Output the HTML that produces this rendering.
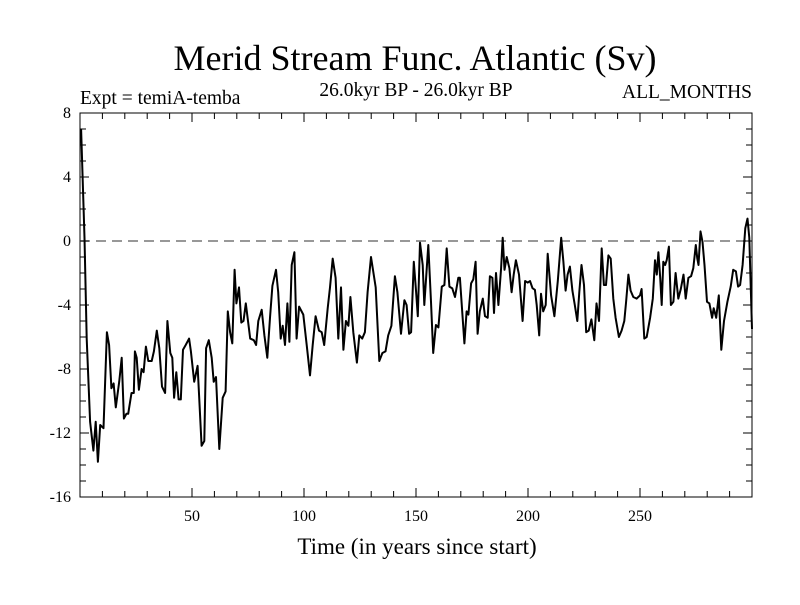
<!DOCTYPE html>
<html><head><meta charset="utf-8"><style>
body{margin:0;background:#fff;}
svg text{font-family:"Liberation Serif",serif;fill:#000;}
</style></head><body>
<svg id="chart" width="800" height="600" xmlns="http://www.w3.org/2000/svg">
<rect width="800" height="600" fill="#fff"/>
<text x="415" y="70" font-size="36" text-anchor="middle">Merid Stream Func. Atlantic (Sv)</text>
<text x="80" y="104" font-size="19.5">Expt = temiA-temba</text>
<text x="416" y="96" font-size="19.5" text-anchor="middle">26.0kyr BP - 26.0kyr BP</text>
<text x="752" y="98" font-size="19.5" text-anchor="end">ALL_MONTHS</text>
<text x="417" y="554" font-size="23" text-anchor="middle">Time (in years since start)</text>
<g id="axes"></g>
<g id="series"></g>
</svg>
<script>
const xTicks=[50,100,150,200,250];
const yTicks=[8,4,0,-4,-8,-12,-16];
const years=[0.5,1,2,3,4.5,6,7,8,9,10.5,12,13,14,15,16,17.5,18.6,19.6,20.7,21.5,23,24,24.5,25.3,26.3,27.5,28.4,29.4,30.5,32,33,34.3,35.4,36.6,38,39,40.3,41.2,42,43,44,45,46,47.2,48.7,49.5,51,52.5,54.3,55.5,56.3,57.5,58.8,59.7,60.7,62.2,63.7,65,66,67,68,69,69.8,71,72,73,74,76,77.6,78.6,79.6,81.1,82.3,83.6,84.8,85.9,87.5,88.5,89.6,90.5,91.5,92.6,93.5,94.5,95.7,96.7,97.8,99.7,101.2,102.7,103.9,105.2,106.7,107.9,109,110.6,111.6,112.8,114.1,115.3,116.5,117.6,118.7,119.8,120.7,122,123.6,124.7,126,127.2,128.4,129.9,132,133.6,135,136.4,137.6,139,140.6,141.7,143.3,144.8,145.8,146.9,147.8,149,150,150.8,151.8,153,153.7,155.5,156.7,157.7,158.9,160,161.5,162.7,163.7,164.9,166.2,167.4,168.9,169.6,171.6,172.6,173.4,174.6,175.6,176.6,177.5,178.5,179.8,180.8,182,183,184.1,184.8,185.7,186.8,188,188.7,189.5,190.5,191.7,192.7,193.6,194.6,196,197.6,198.7,199.9,200.9,202,203.1,203.9,205,205.8,206.8,207.9,208.8,210.3,211.8,213.3,214.8,215.8,216.8,217.7,218.7,219.8,220.9,222,222.9,223.9,225,226,227.1,228.3,229.6,230.6,231.7,232.9,233.9,234.8,235.9,236.9,238.1,239.1,240.6,241.8,243,243.8,244.8,245.8,247,248.5,250,250.7,251.9,253,254.5,255.7,256.7,257.5,258.2,259,259.7,260.4,261.2,261.9,262.9,263.8,264.9,265.9,267.1,268.2,269.4,270.4,271.6,272.8,273.8,274.9,275.6,276.1,277,277.9,278.8,279.9,281,282.2,282.9,284,285.2,286.3,287.5,289,290.5,291.6,292.8,293.8,294.7,295.8,297,298,298.8,299.5,300];
const values=[7.0,4.8,0.2,-6.1,-11.3,-13.1,-11.3,-13.8,-11.5,-11.7,-5.7,-6.5,-9.2,-8.9,-10.4,-8.8,-7.3,-11.1,-10.8,-10.8,-9.5,-9.5,-6.9,-7.3,-9.3,-8.0,-8.2,-6.6,-7.5,-7.5,-6.9,-5.6,-6.7,-9.1,-9.5,-5.0,-7.0,-7.3,-9.8,-8.2,-9.9,-9.9,-6.8,-6.5,-6.1,-6.9,-8.8,-7.8,-12.8,-12.5,-6.7,-6.2,-7.3,-8.8,-8.5,-13.0,-9.8,-9.4,-4.4,-5.7,-6.4,-1.8,-3.9,-2.9,-5.1,-5.0,-3.9,-6.1,-6.2,-6.5,-5.0,-4.3,-5.9,-7.3,-4.8,-2.8,-1.8,-3.2,-6.1,-5.3,-6.5,-3.9,-6.3,-1.5,-0.7,-6.1,-4.1,-4.6,-6.5,-8.4,-6.5,-4.7,-5.6,-5.7,-6.5,-4.2,-2.9,-1.1,-2.3,-6.1,-2.9,-6.8,-5.0,-5.3,-3.5,-5.7,-7.6,-5.9,-6.1,-5.7,-3.2,-1.0,-2.9,-7.5,-7.0,-6.9,-5.9,-5.3,-2.2,-3.2,-5.8,-3.7,-4.0,-5.8,-5.7,-1.3,-3.1,-4.7,-0.1,-1.5,-4.0,-0.25,-3.8,-7.0,-5.25,-5.4,-2.85,-2.75,-0.46,-2.85,-2.96,-3.5,-2.3,-2.3,-6.4,-4.4,-4.6,-2.65,-2.4,-1.3,-5.8,-4.4,-3.6,-4.7,-4.8,-2.2,-2.3,-4.5,-2.0,-4.0,-1.7,0.2,-1.8,-1.0,-1.7,-3.2,-2.1,-1.2,-2.1,-5.0,-2.5,-2.6,-2.5,-2.95,-3.05,-4.0,-5.9,-3.3,-4.4,-4.0,-0.8,-3.4,-4.7,-2.5,0.2,-1.3,-3.1,-2.1,-1.6,-3.1,-4.0,-5.0,-3.2,-1.5,-2.75,-5.7,-5.6,-4.9,-6.2,-3.9,-5.0,-0.46,-2.75,-2.75,-0.9,-1.1,-3.6,-4.8,-6.0,-5.6,-5.0,-3.8,-2.1,-3.1,-3.5,-3.6,-3.4,-3.0,-6.1,-6.0,-4.8,-3.6,-1.2,-2.1,-0.7,-2.3,-4.0,-1.3,-1.5,-1.2,-0.35,-4.0,-3.8,-2.0,-3.6,-3.0,-2.1,-3.6,-2.3,-2.2,-1.7,-0.25,-1.1,-1.5,0.6,-0.05,-1.5,-3.8,-3.9,-4.8,-4.2,-4.8,-3.4,-6.8,-5.0,-3.8,-2.85,-1.8,-1.9,-2.85,-2.75,-1.5,0.8,1.4,0.2,-3.2,-5.5];

const L=80,R=752,T=113,B=497,X0=0,X1=300,Y0=-16,Y1=8;
const sx=v=>L+(v-X0)/(X1-X0)*(R-L);
const sy=v=>B-(v-Y0)/(Y1-Y0)*(B-T);
const NS='http://www.w3.org/2000/svg';
const axes=document.getElementById('axes');
const series=document.getElementById('series');
function mk(tag,attrs,parent){const e=document.createElementNS(NS,tag);for(const k in attrs)e.setAttribute(k,attrs[k]);parent.appendChild(e);return e;}

const frame=mk('rect',{x:L,y:T,width:R-L,height:B-T,fill:'none',stroke:'#000','stroke-width':1},axes);



const zero=mk('line',{x1:L,x2:R,y1:sy(0),y2:sy(0),stroke:'#777','stroke-width':1.5,'stroke-dasharray':'10,6'},axes);



for(let v=10;v<300;v+=10){
  const major=v%50===0, len=major?9:6;
  const t1=mk('line',{x1:sx(v),x2:sx(v),y1:B,y2:B-len,stroke:'#000'},axes);
  
  
  const t2=mk('line',{x1:sx(v),x2:sx(v),y1:T,y2:T+len,stroke:'#000'},axes);
  
  
}
for(let v=Y0+1;v<Y1;v++){
  const major=v%4===0, len=major?9:6;
  const t1=mk('line',{x1:L,x2:L+len,y1:sy(v),y2:sy(v),stroke:'#000'},axes);
  
  
  const t2=mk('line',{x1:R,x2:R-len,y1:sy(v),y2:sy(v),stroke:'#000'},axes);
  
  
}
xTicks.forEach(v=>{
  const t=mk('text',{x:sx(v),y:B+24,'font-size':16,'text-anchor':'middle'},axes);
  t.textContent=v;
  
  
});
yTicks.forEach(v=>{
  const t=mk('text',{x:L-9,y:sy(v)+5,'font-size':16,'text-anchor':'end'},axes);
  t.textContent=v;
  
  
});
const d=years.map((y,i)=>(i?'L':'M')+sx(y).toFixed(1)+','+sy(values[i]).toFixed(1)).join('');
const line=mk('path',{d:d,fill:'none',stroke:'#000','stroke-width':2,'stroke-linejoin':'round'},series);


</script>
</body></html>
